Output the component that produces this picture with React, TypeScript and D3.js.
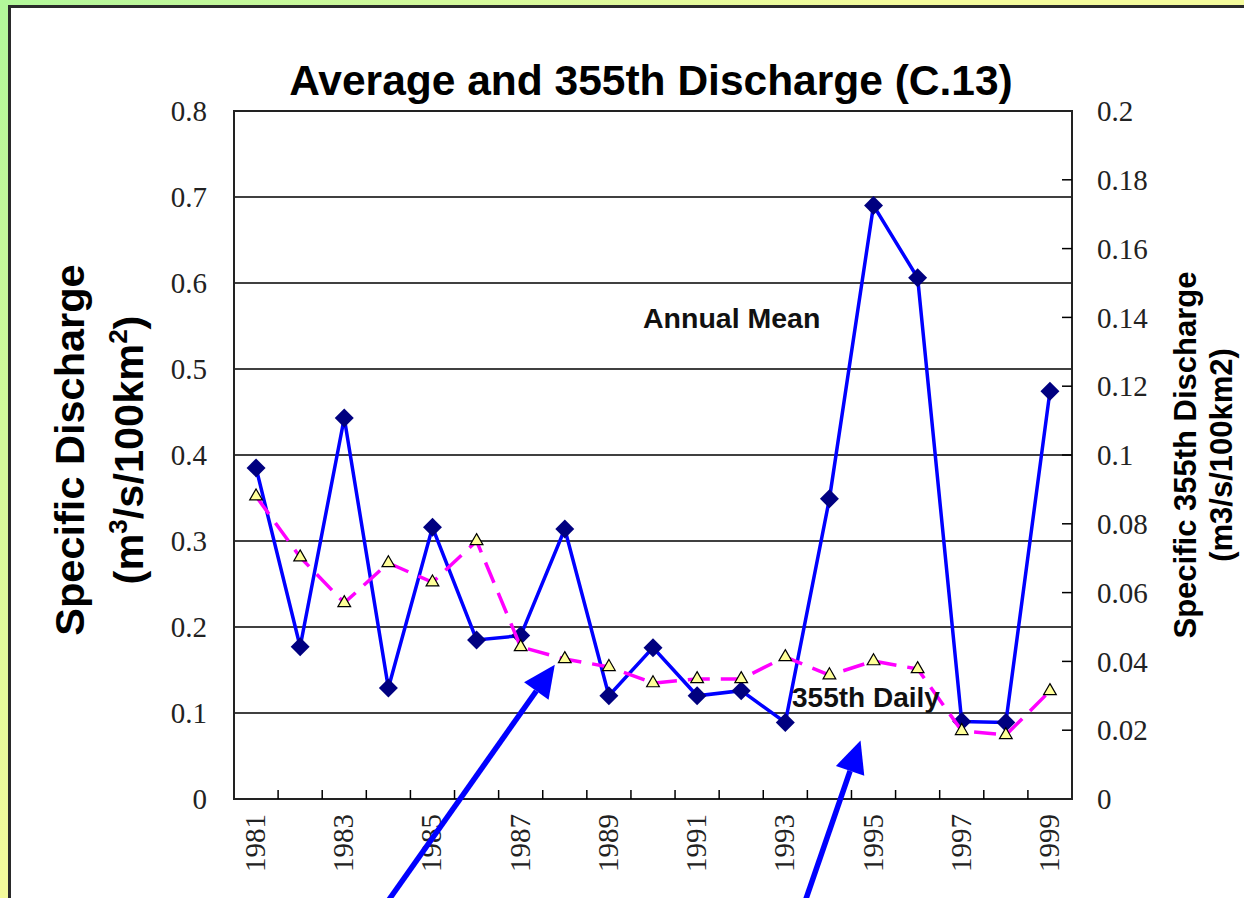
import { useEffect, useRef } from "react";
import * as d3 from "d3";

// ---------------- data ----------------
const years = ["1981", "1982", "1983", "1984", "1985", "1986", "1987", "1988", "1989", "1990",
  "1991", "1992", "1993", "1994", "1995", "1996", "1997", "1998", "1999"];
// annual mean specific discharge (left axis)
const annualMean = [0.385, 0.177, 0.443, 0.129, 0.316, 0.185, 0.19, 0.314, 0.12, 0.176,
  0.12, 0.126, 0.089, 0.349, 0.69, 0.606, 0.09, 0.089, 0.474];
// 355th daily discharge (right axis)
const daily355 = [0.088, 0.0703, 0.057, 0.0686, 0.063, 0.075, 0.0442, 0.0407, 0.0384, 0.0337,
  0.0349, 0.0349, 0.0413, 0.036, 0.0401, 0.0378, 0.0198, 0.0186, 0.0314];
const leftTicks = [0, 0.1, 0.2, 0.3, 0.4, 0.5, 0.6, 0.7, 0.8];
const rightTicks = [0, 0.02, 0.04, 0.06, 0.08, 0.1, 0.12, 0.14, 0.16, 0.18, 0.2];
const labelledYears = ["1981", "1983", "1985", "1987", "1989", "1991", "1993", "1995", "1997", "1999"];
// arrows pointing at the 355th curve (tip in data terms, tail offset in px)
const arrows = [
  { year: "1988", value: 0.039, dx: -10, tailDx: -185, tailDy: 262 },
  { year: "1995", value: 0.017, dx: -13, tailDx: -62, tailDy: 180 },
];

const W = 1244, H = 898;
const SANS = "'Liberation Sans', Arial, sans-serif";
const SERIF = "'Liberation Serif', 'Times New Roman', serif";

const App = () => {
  const svgRef = useRef(null);

  useEffect(() => {
    const svg = d3.select(svgRef.current);
    svg.selectAll("*").remove();

    const margin = { top: 111, right: 172, bottom: 99, left: 234 };
    const x0 = margin.left, x1 = W - margin.right, y0 = margin.top, y1 = H - margin.bottom;

    ////////////// background //////////////
    const defs = svg.append("defs");
    const grad = defs.append("linearGradient").attr("id", "bg")
      .attr("gradientUnits", "userSpaceOnUse")
      .attr("x1", 0).attr("y1", 0).attr("x2", 450).attr("y2", 450);
    grad.append("stop").attr("offset", 0).attr("stop-color", "#b2f79a");
    grad.append("stop").attr("offset", 1).attr("stop-color", "#f4fb9c");
    svg.append("rect").attr("width", W).attr("height", H).attr("fill", "url(#bg)");
    svg.append("rect").attr("x", 9.5).attr("y", 6.5).attr("width", 1400).attr("height", 1000)
      .attr("fill", "#fff").attr("stroke", "#2a2a2a").attr("stroke-width", 3);

    ////////////// scales //////////////
    const x = d3.scaleBand().domain(years).range([x0, x1]).padding(0);
    const cx = (d) => x(d) + x.bandwidth() / 2;
    const yL = d3.scaleLinear().domain([0, 0.8]).range([y1, y0]);
    const yR = d3.scaleLinear().domain([0, 0.2]).range([y1, y0]);

    ////////////// grid + frame //////////////
    svg.append("g").selectAll("line").data(leftTicks.slice(1, -1)).enter().append("line")
      .attr("x1", x0).attr("x2", x1).attr("y1", (d) => yL(d)).attr("y2", (d) => yL(d))
      .attr("stroke", "#000").attr("stroke-width", 1.5);
    svg.append("rect").attr("x", x0).attr("y", y0).attr("width", x1 - x0).attr("height", y1 - y0)
      .attr("fill", "none").attr("stroke", "#222").attr("stroke-width", 2);

    // x ticks at category boundaries, pointing inward
    svg.append("g").selectAll("line").data(years.slice(1)).enter().append("line")
      .attr("x1", (d) => x(d)).attr("x2", (d) => x(d)).attr("y1", y1).attr("y2", y1 - 9)
      .attr("stroke", "#000").attr("stroke-width", 1.5);
    // right axis ticks, pointing inward
    svg.append("g").selectAll("line").data(rightTicks.slice(1, -1)).enter().append("line")
      .attr("x1", x1 - 10).attr("x2", x1).attr("y1", (d) => yR(d)).attr("y2", (d) => yR(d))
      .attr("stroke", "#000").attr("stroke-width", 1.5);

    ////////////// tick labels //////////////
    svg.append("g").selectAll("text").data(leftTicks).enter().append("text")
      .attr("x", 207).attr("y", (d) => yL(d)).attr("dy", "0.35em")
      .attr("text-anchor", "end").attr("font-family", SERIF).attr("font-size", 29).attr("fill", "#222")
      .text((d) => `${+d.toFixed(2)}`);
    svg.append("g").selectAll("text").data(rightTicks).enter().append("text")
      .attr("x", 1097).attr("y", (d) => yR(d)).attr("dy", "0.35em")
      .attr("text-anchor", "start").attr("font-family", SERIF).attr("font-size", 29).attr("fill", "#222")
      .text((d) => `${+d.toFixed(2)}`);
    svg.append("g").selectAll("text").data(labelledYears).enter().append("text")
      .attr("transform", (d) => `translate(${cx(d) + 9},814) rotate(-90)`)
      .attr("text-anchor", "end").attr("font-family", SERIF).attr("font-size", 29).attr("fill", "#222")
      .text((d) => d);

    ////////////// annual mean series //////////////
    const meanData = years.map((y, i) => ({ y, v: annualMean[i] }));
    svg.append("path").datum(meanData)
      .attr("fill", "none").attr("stroke", "#0000ff").attr("stroke-width", 3.5)
      .attr("d", d3.line().x((d) => cx(d.y)).y((d) => yL(d.v)));
    svg.append("g").selectAll("path").data(meanData).enter().append("path")
      .attr("transform", (d) => `translate(${cx(d.y)},${yL(d.v)}) rotate(45)`)
      .attr("d", d3.symbol().type(d3.symbolSquare).size(180))
      .attr("fill", "#000080");

    ////////////// 355th daily series //////////////
    const dailyData = years.map((y, i) => ({ y, v: daily355[i] }));
    svg.append("path").datum(dailyData)
      .attr("fill", "none").attr("stroke", "#ff00ff").attr("stroke-width", 3.5)
      .attr("stroke-dasharray", "22,11")
      .attr("d", d3.line().x((d) => cx(d.y)).y((d) => yR(d.v)));
    svg.append("g").selectAll("path").data(dailyData).enter().append("path")
      .attr("transform", (d) => `translate(${cx(d.y)},${yR(d.v)})`)
      .attr("d", d3.symbol().type(d3.symbolTriangle).size(70))
      .attr("fill", "#ffff99").attr("stroke", "#000").attr("stroke-width", 1.2);

    ////////////// in-plot labels //////////////
    svg.append("text").attr("x", 643).attr("y", 328)
      .attr("font-family", SANS).attr("font-weight", "bold").attr("font-size", 28.5).attr("fill", "#111")
      .text("Annual Mean");
    svg.append("text").attr("x", 792).attr("y", 707)
      .attr("font-family", SANS).attr("font-weight", "bold").attr("font-size", 28).attr("fill", "#111")
      .text("355th Daily");

    ////////////// titles //////////////
    svg.append("text").attr("x", 651).attr("y", 95).attr("text-anchor", "middle")
      .attr("font-family", SANS).attr("font-weight", "bold").attr("font-size", 42.5).attr("fill", "#000")
      .text("Average and 355th Discharge (C.13)");

    const lt = svg.append("text").attr("transform", "translate(0,450) rotate(-90)")
      .attr("text-anchor", "middle").attr("font-family", SANS).attr("font-weight", "bold")
      .attr("font-size", 41.5).attr("fill", "#000");
    lt.append("tspan").attr("x", 0).attr("y", 84).text("Specific Discharge");
    const l2 = lt.append("tspan").attr("x", 0).attr("y", 143);
    l2.append("tspan").text("(m");
    l2.append("tspan").attr("font-size", 26).attr("dy", -16).text("3");
    l2.append("tspan").attr("dy", 16).text("/s/100km");
    l2.append("tspan").attr("font-size", 26).attr("dy", -16).text("2");
    l2.append("tspan").attr("dy", 16).text(")");

    const rt = svg.append("text").attr("transform", "translate(0,455) rotate(-90)")
      .attr("text-anchor", "middle").attr("font-family", SANS).attr("font-weight", "bold")
      .attr("font-size", 31).attr("fill", "#000");
    rt.append("tspan").attr("x", 0).attr("y", 1196).text("Specific 355th Discharge");
    rt.append("tspan").attr("x", 0).attr("y", 1232).text("(m3/s/100km2)");

    ////////////// arrows //////////////
    arrows.forEach((a) => {
      const tx = cx(a.year) + a.dx, ty = yR(a.value);
      const sx = tx + a.tailDx, sy = ty + a.tailDy;
      const ang = Math.atan2(ty - sy, tx - sx);
      const len = 32, half = 15;
      const bx = tx - len * Math.cos(ang), by = ty - len * Math.sin(ang);
      svg.append("line").attr("x1", sx).attr("y1", sy).attr("x2", bx).attr("y2", by)
        .attr("stroke", "#0000ff").attr("stroke-width", 5.5);
      const px = -Math.sin(ang), py = Math.cos(ang);
      svg.append("path")
        .attr("d", `M${tx},${ty}L${bx + half * px},${by + half * py}L${bx - half * px},${by - half * py}Z`)
        .attr("fill", "#0000ff");
    });
  }, []);

  return (
    <div style={{ position: "fixed", left: 0, top: 0 }}>
      <svg ref={svgRef} width={W} height={H} style={{ display: "block" }}></svg>
    </div>
  );
};

export default App;
